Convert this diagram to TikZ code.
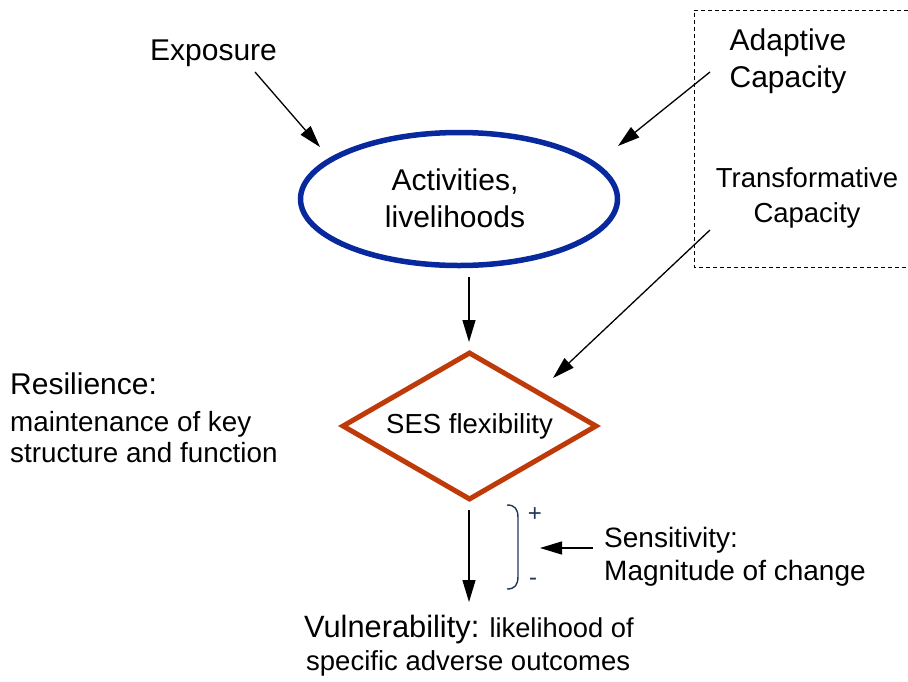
\documentclass[tikz,border=0pt]{standalone}
\usepackage{fontspec}
\setmainfont{Liberation Sans}
\usetikzlibrary{arrows.meta,shapes.geometric}
\definecolor{ellblue}{RGB}{8,40,158}
\definecolor{diarust}{RGB}{190,58,8}
\definecolor{brnavy}{RGB}{35,55,95}
\newcommand{\fs}[1]{\fontsize{#1}{#1}\selectfont}
\tikzset{
  txt/.style={inner sep=0pt, anchor=base},
  txtl/.style={inner sep=0pt, anchor=base west},
  conn/.style={line width=1.3pt, -{Triangle[length=22pt,width=13pt]}},
}
\begin{document}
\begin{tikzpicture}[x=1pt,y=-1pt]
\useasboundingbox (0,0) rectangle (908,681);
% dashed box
\draw[line width=0.8pt, dash pattern=on 4pt off 3pt] (915,10) -- (694,10) -- (694,267) -- (915,267);
% main shapes
\node[ellipse, draw=ellblue, line width=5.5pt, minimum width=317pt, minimum height=133pt, inner sep=0pt] (act) at (459,199) {};
\node[txt, font=\fs{30}] (act1) at (455,190) {Activities,};
\node[txt, font=\fs{30}] (act2) at (455,227) {livelihoods};
\node[diamond, draw=diarust, line width=5pt, minimum width=255pt, minimum height=148pt, aspect=1.72, inner sep=0pt, font=\fs{27.5}] (ses) at (469.5,426) {SES flexibility};
% texts
\node[txt, font=\fs{30}] (expo) at (213.5,60) {Exposure};
\node[txt, font=\fs{30}] (adap1) at (788,50) {Adaptive};
\node[txt, font=\fs{30}] (adap2) at (788,87) {Capacity};
\node[txt, font=\fs{27.5}] (trans1) at (807,187) {Transformative};
\node[txt, font=\fs{27.5}] (trans2) at (807,222) {Capacity};
\node[txtl, font=\fs{30}] (res1) at (10,394) {Resilience:};
\node[txtl, font=\fs{27.8}] (res2) at (10,431) {maintenance of key};
\node[txtl, font=\fs{27.8}] (res3) at (10,462) {structure and function};
\node[txtl] (vul1) at (304,637) {\fs{30.8}Vulnerability:\fs{27.3} likelihood of};
\node[txtl, font=\fs{27.5}] (vul2) at (306,670) {specific adverse outcomes};
\node[txtl, font=\fs{28}] (sens1) at (604,547) {Sensitivity:};
\node[txtl, font=\fs{28}] (sens2) at (604,580) {Magnitude of change};
\node[txt, font=\fs{24}, text=brnavy] (plus) at (535,521) {+};
\node[txt, font=\fs{24}, text=brnavy] (minus) at (533,585) {-};
% connector endpoints
\coordinate (expoS) at (255,72);
\coordinate (expoT) at (320,147);
\coordinate (adapS) at (710,72);
\coordinate (adapT) at (618,146);
\coordinate (transS) at (710,230);
\coordinate (transT) at (553,378);
\coordinate (actS) at (469,277);
\coordinate (sesT) at (469,342);
\coordinate (sesS) at (469,510);
\coordinate (vulT) at (469,602);
\coordinate (sensS) at (593,548);
\coordinate (sensT) at (540,548);
% connectors
\draw[conn] (expoS) -- (expoT);
\draw[conn] (adapS) -- (adapT);
\draw[conn] (transS) -- (transT);
\draw[conn] (actS) -- (sesT);
\draw[conn] (sesS) -- (vulT);
\draw[conn] (sensS) -- (sensT);
% bracket
\draw[brnavy, line width=1.4pt] (507,505) .. controls (515,505) and (518,509) .. (518,518) -- (518,576) .. controls (518,585) and (515,589) .. (507,589);
\end{tikzpicture}
\end{document}
